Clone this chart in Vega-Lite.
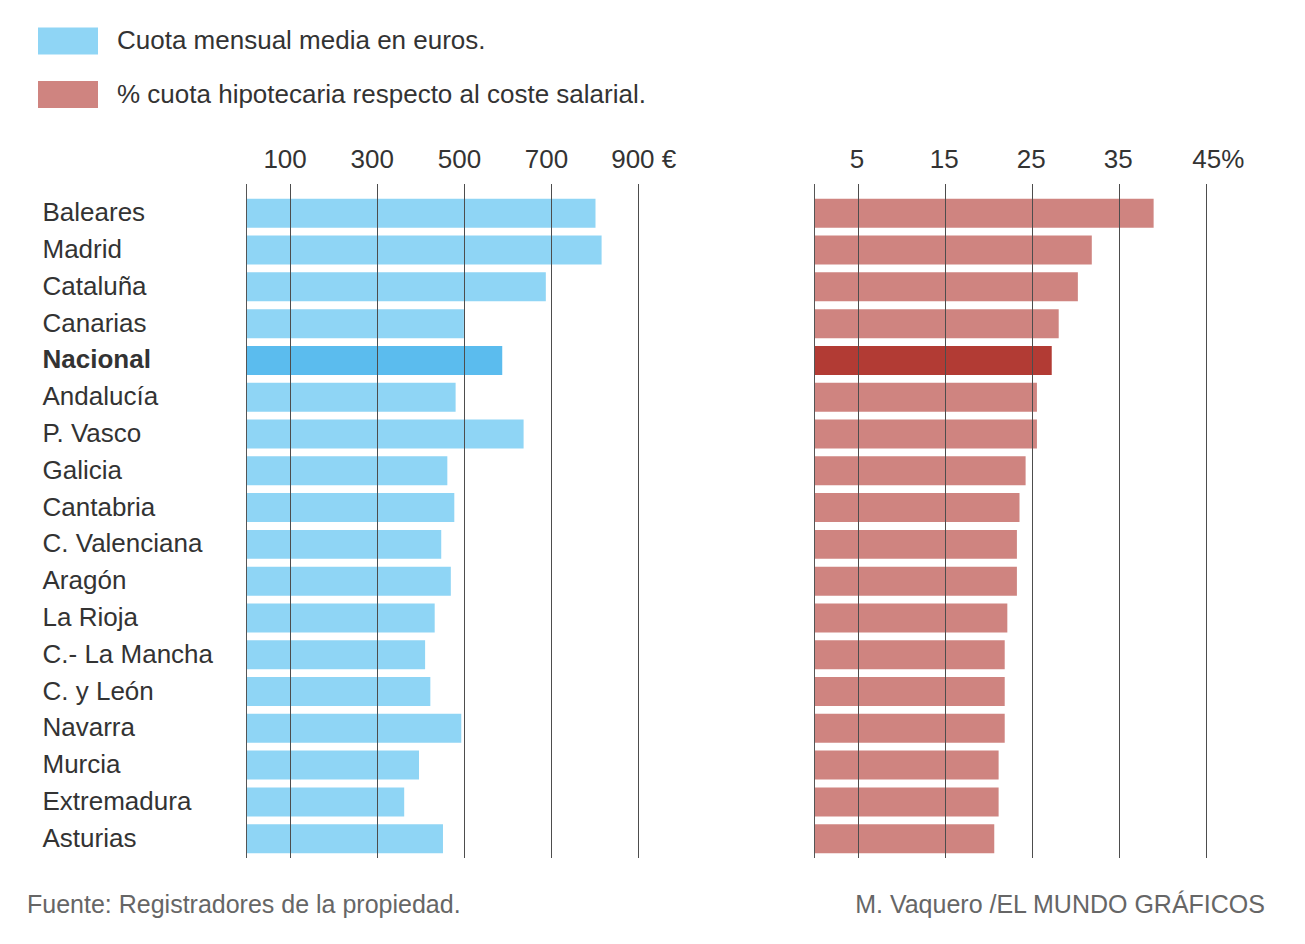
{
  "$schema": "https://vega.github.io/schema/vega-lite/v6.json",
  "padding": {"left": 27, "top": 13.5, "right": 20, "bottom": 10},
  "background": "white",
  "config": {
    "view": {"stroke": null},
    "font": "Liberation Sans",
    "axis": {"labelFont": "Liberation Sans", "labelColor": "#333333"}
  },
  "datasets": {
    "d": [
      {"region": "Baleares", "cuota": 802, "pct": 39.0},
      {"region": "Madrid", "cuota": 816, "pct": 31.9},
      {"region": "Cataluña", "cuota": 688, "pct": 30.3},
      {"region": "Canarias", "cuota": 500, "pct": 28.1},
      {"region": "Nacional", "cuota": 588, "pct": 27.3},
      {"region": "Andalucía", "cuota": 481, "pct": 25.6},
      {"region": "P. Vasco", "cuota": 637, "pct": 25.6},
      {"region": "Galicia", "cuota": 462, "pct": 24.3},
      {"region": "Cantabria", "cuota": 478, "pct": 23.6},
      {"region": "C. Valenciana", "cuota": 448, "pct": 23.3},
      {"region": "Aragón", "cuota": 470, "pct": 23.3},
      {"region": "La Rioja", "cuota": 433, "pct": 22.2},
      {"region": "C.- La Mancha", "cuota": 411, "pct": 21.9},
      {"region": "C. y León", "cuota": 423, "pct": 21.9},
      {"region": "Navarra", "cuota": 494, "pct": 21.9},
      {"region": "Murcia", "cuota": 397, "pct": 21.2},
      {"region": "Extremadura", "cuota": 363, "pct": 21.2},
      {"region": "Asturias", "cuota": 452, "pct": 20.7}
    ]
  },
  "bounds": "flush",
  "spacing": 154,
  "resolve": {"scale": {"color": "shared"}, "legend": {"color": "shared"}},
  "hconcat": [
    {
      "width": 414,
      "height": 674,
      "data": {"name": "d"},
      "title": {
        "text": "Fuente: Registradores de la propiedad.",
        "orient": "bottom",
        "anchor": "start",
        "frame": "group",
        "dx": -219,
        "offset": 55,
        "baseline": "alphabetic",
        "fontSize": 25,
        "fontWeight": "normal",
        "font": "Liberation Sans",
        "color": "#666666"
      },
      "mark": {"type": "bar"},
      "encoding": {
        "y": {
          "field": "region",
          "type": "nominal",
          "sort": null,
          "scale": {"paddingInner": 0.212, "paddingOuter": 0.266, "align": 0.78},
          "axis": {
            "title": null,
            "orient": "left",
            "ticks": false,
            "tickSize": 0,
            "grid": false,
            "domain": true,
            "domainColor": "#555555",
            "domainWidth": 1,
            "labelAlign": "left",
            "labelBaseline": "middle",
            "labelPadding": 204,
            "labelFontSize": 26,
            "labelLimit": 0,
            "labelFontWeight": {"condition": {"test": "datum.value === 'Nacional'", "value": "bold"}, "value": "normal"},
            "zindex": 1
          }
        },
        "x": {
          "field": "cuota",
          "type": "quantitative",
          "scale": {"domain": [0, 950], "nice": false},
          "axis": {
            "title": null,
            "orient": "top",
            "values": [100, 300, 500, 700, 900],
            "labelExpr": "datum.value == 900 ? '900 €' : datum.label",
            "ticks": false,
            "tickSize": 0,
            "domain": false,
            "grid": true,
            "gridColor": "#4d4d4d",
            "gridWidth": 1,
            "labelFontSize": 26,
            "labelPadding": 11,
            "labelOffset": {"condition": {"test": "datum.value == 900", "value": 5}, "value": -5},
            "zindex": 1
          }
        },
        "color": {
          "condition": {"test": "datum.region === 'Nacional'", "value": "#5bbcee"},
          "datum": "Cuota mensual media en euros.",
          "type": "nominal",
          "scale": {
            "domain": ["Cuota mensual media en euros.", "% cuota hipotecaria respecto al coste salarial."],
            "range": ["#8fd5f5", "#cf8480"]
          },
          "legend": {
            "title": null,
            "orient": "none",
            "legendX": -205,
            "legendY": -169.5,
            "direction": "vertical",
            "padding": 0,
            "rowPadding": 12.5,
            "symbolType": "M-1.111,-0.5H1.111V0.5H-1.111Z",
            "symbolSize": 2916,
            "symbolStrokeWidth": 0,
            "symbolOpacity": 1,
            "labelFontSize": 26,
            "labelFont": "Liberation Sans",
            "labelColor": "#333333",
            "labelOffset": 22,
            "labelLimit": 0
          }
        }
      }
    },
    {
      "width": 418,
      "height": 674,
      "data": {"name": "d"},
      "title": {
        "text": "M. Vaquero /EL MUNDO GRÁFICOS",
        "orient": "bottom",
        "anchor": "end",
        "frame": "group",
        "dx": 33,
        "offset": 55,
        "baseline": "alphabetic",
        "fontSize": 25,
        "fontWeight": "normal",
        "font": "Liberation Sans",
        "color": "#666666"
      },
      "mark": {"type": "bar"},
      "encoding": {
        "y": {
          "field": "region",
          "type": "nominal",
          "sort": null,
          "scale": {"paddingInner": 0.212, "paddingOuter": 0.266, "align": 0.78},
          "axis": {
            "title": null,
            "orient": "left",
            "labels": false,
            "ticks": false,
            "tickSize": 0,
            "grid": false,
            "domain": true,
            "domainColor": "#555555",
            "domainWidth": 1,
            "zindex": 1
          }
        },
        "x": {
          "field": "pct",
          "type": "quantitative",
          "scale": {"domain": [0, 48], "nice": false},
          "axis": {
            "title": null,
            "orient": "top",
            "values": [5, 15, 25, 35, 45],
            "labelExpr": "datum.value == 45 ? '45%' : datum.label",
            "ticks": false,
            "tickSize": 0,
            "domain": false,
            "grid": true,
            "gridColor": "#4d4d4d",
            "gridWidth": 1,
            "labelFontSize": 26,
            "labelPadding": 11,
            "labelOffset": {"condition": {"test": "datum.value == 45", "value": 12}, "value": -1},
            "zindex": 1
          }
        },
        "color": {
          "condition": {"test": "datum.region === 'Nacional'", "value": "#b23b34"},
          "datum": "% cuota hipotecaria respecto al coste salarial.",
          "type": "nominal",
          "scale": {
            "domain": ["Cuota mensual media en euros.", "% cuota hipotecaria respecto al coste salarial."],
            "range": ["#8fd5f5", "#cf8480"]
          },
          "legend": {
            "title": null,
            "orient": "none",
            "legendX": -205,
            "legendY": -169.5,
            "direction": "vertical",
            "padding": 0,
            "rowPadding": 12.5,
            "symbolType": "M-1.111,-0.5H1.111V0.5H-1.111Z",
            "symbolSize": 2916,
            "symbolStrokeWidth": 0,
            "symbolOpacity": 1,
            "labelFontSize": 26,
            "labelFont": "Liberation Sans",
            "labelColor": "#333333",
            "labelOffset": 22,
            "labelLimit": 0
          }
        }
      }
    }
  ]
}
